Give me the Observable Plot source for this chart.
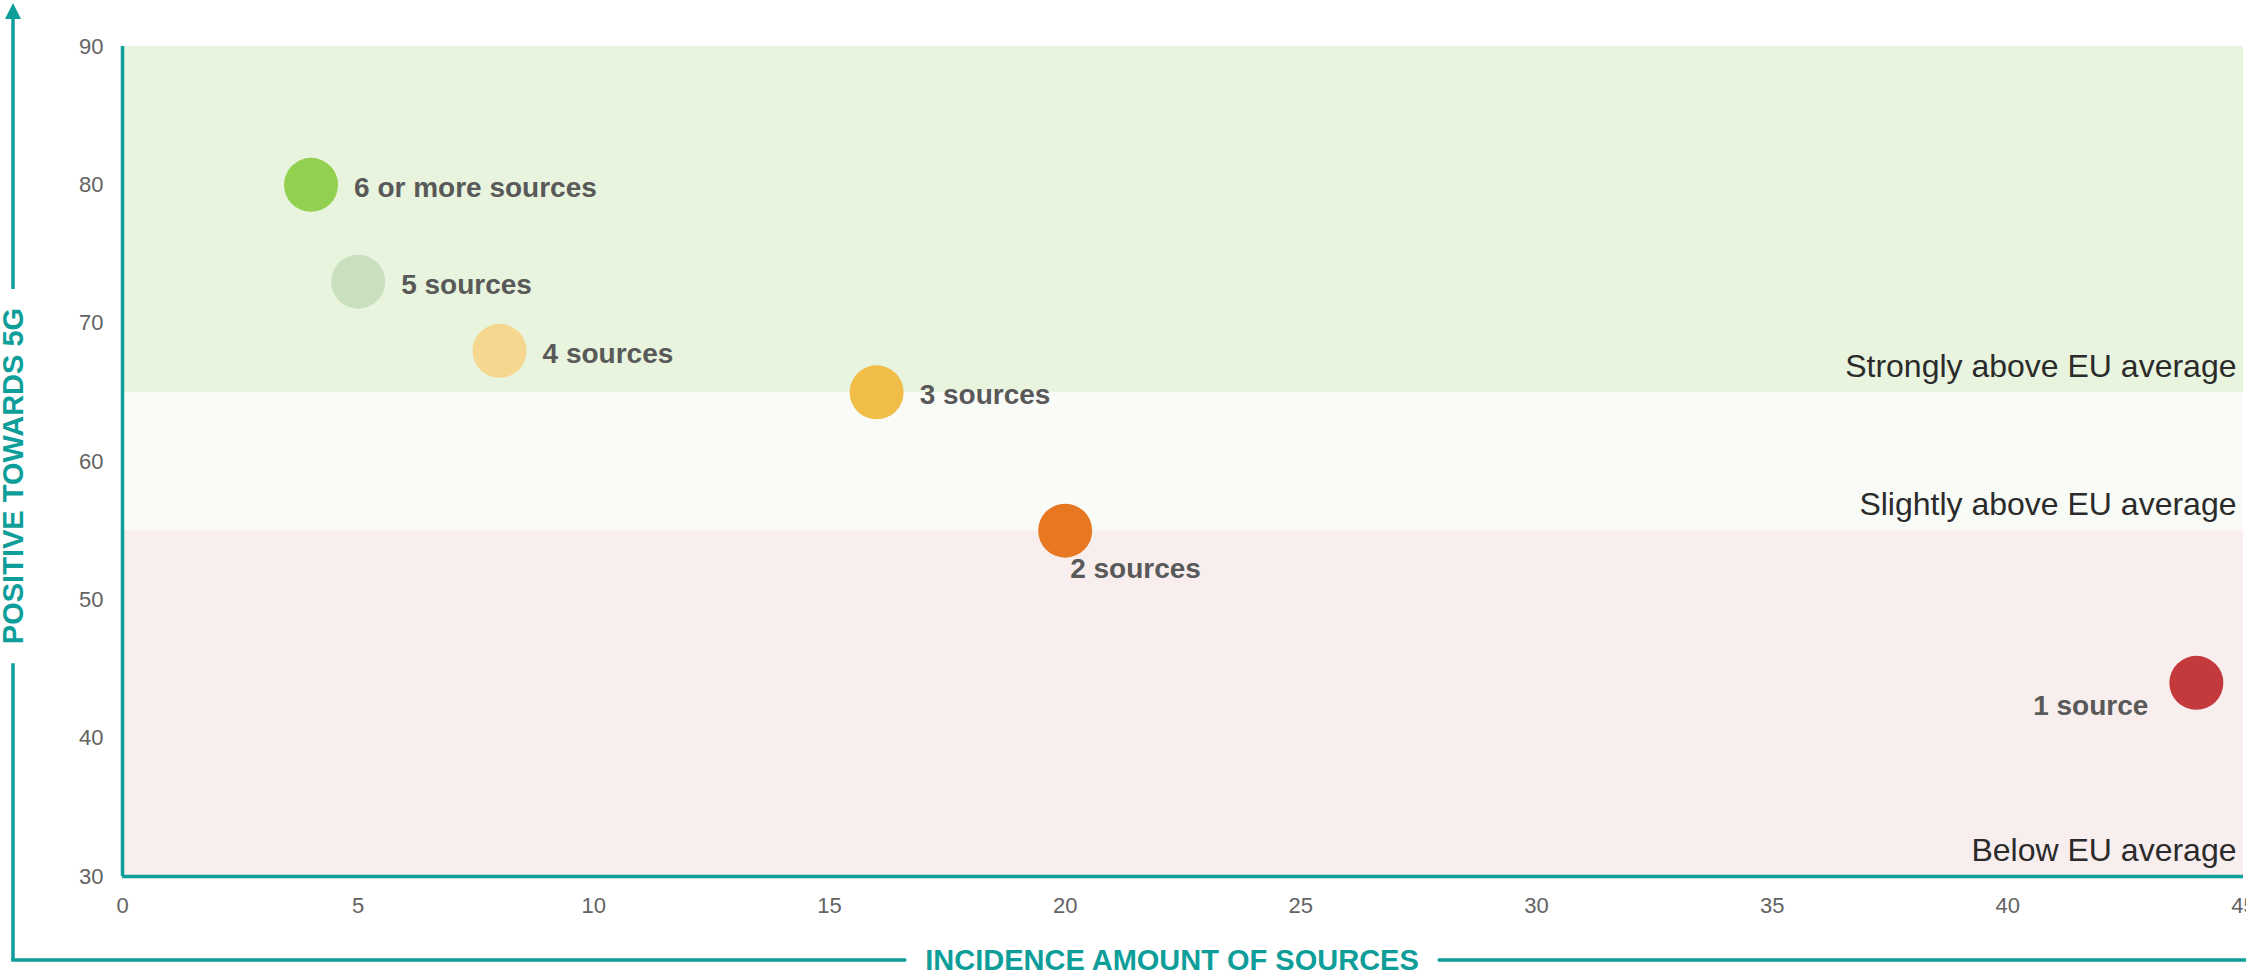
<!DOCTYPE html>
<html>
<head>
<meta charset="utf-8">
<script src="https://cdn.jsdelivr.net/npm/d3@7"></script>
<script src="https://cdn.jsdelivr.net/npm/@observablehq/plot@0.6"></script>
<style>
  html, body { margin: 0; padding: 0; background: #ffffff; overflow: hidden; }
  #chart { width: 2246px; height: 972px; }
</style>
</head>
<body>
<div id="chart"></div>
<script>
// ---- data ----
const categories = ["6 or more sources", "5 sources", "4 sources", "3 sources", "2 sources", "1 source"];
const incidence = [4, 5, 8, 16, 20, 44];
const positive = [80, 73, 68, 65, 55, 44];
const pointColors = ["#92d050", "#c8e0be", "#f5d790", "#f0bd48", "#e87722", "#c43a3c"];

const bandNames = ["Below EU average", "Slightly above EU average", "Strongly above EU average"];
const bandLow = [30, 55, 65];
const bandHigh = [55, 65, 90];
const bandColors = ["#f8eeee", "#f9fbf6", "#e8f4dd"];

const xTicks = [0, 5, 10, 15, 20, 25, 30, 35, 40, 45];
const yTicks = [30, 40, 50, 60, 70, 80, 90];

const xTitle = "INCIDENCE AMOUNT OF SOURCES";
const yTitle = "POSITIVE TOWARDS 5G";

// ---- tables ----
const points = categories.map((c, i) => ({category: c, x: incidence[i], y: positive[i]}));
const bands = bandNames.map((n, i) => ({name: n, y1: bandLow[i], y2: bandHigh[i]}));

const teal = "#0e9e9a";
const labelGray = "#595959";
const font = "'Liberation Sans', Arial, Helvetica, sans-serif";

const below = new Set(["2 sources"]);
const left = new Set(["1 source"]);

const chart = Plot.plot({
  width: 2246,
  height: 972,
  marginLeft: 122,
  marginRight: 3,
  marginTop: 46,
  marginBottom: 96,
  style: {fontFamily: font, fontSize: "22px", color: "#636363", background: "white", overflow: "visible"},
  x: {domain: [0, 45], ticks: xTicks, tickSize: 0, tickPadding: 21, label: null},
  y: {domain: [30, 90], ticks: yTicks, tickSize: 0, tickPadding: 19, label: null},
  color: {domain: bandNames.concat(categories), range: bandColors.concat(pointColors)},
  marks: [
    Plot.rect(bands, {y1: "y1", y2: "y2", x1: 0, x2: 45, fill: "name"}),
    Plot.text(bands, {
      x: 45, y: "y1", text: "name", textAnchor: "end", lineAnchor: "middle",
      dx: -7, dy: -26, fontSize: 32, fill: "#2b2b2b"
    }),
    Plot.ruleX([0], {stroke: teal, strokeWidth: 3.5}),
    Plot.ruleY([30], {stroke: teal, strokeWidth: 3.5}),
    Plot.dot(points, {x: "x", y: "y", r: 27, fill: "category", stroke: "none"}),
    Plot.text(points.filter(d => !below.has(d.category) && !left.has(d.category)), {
      x: "x", y: "y", text: "category", textAnchor: "start", lineAnchor: "middle",
      dx: 43, dy: 3, fontSize: 28, fontWeight: "bold", fill: labelGray
    }),
    Plot.text(points.filter(d => below.has(d.category)), {
      x: "x", y: "y", text: "category", textAnchor: "start", lineAnchor: "middle",
      dx: 5, dy: 38, fontSize: 28, fontWeight: "bold", fill: labelGray
    }),
    Plot.text(points.filter(d => left.has(d.category)), {
      x: "x", y: "y", text: "category", textAnchor: "end", lineAnchor: "middle",
      dx: -48, dy: 23, fontSize: 28, fontWeight: "bold", fill: labelGray
    })
  ]
});

document.getElementById("chart").appendChild(chart);

// ---- outer frame with axis titles ----
const svg = d3.select(chart);
const frameX = 13, frameY = 960, arrowTop = 3, gap = 19;
const g = svg.append("g");

const xt = g.append("text")
  .attr("x", 1172).attr("y", frameY)
  .attr("text-anchor", "middle").attr("dominant-baseline", "central")
  .attr("font-family", font).attr("font-weight", "bold").attr("font-size", 29)
  .attr("fill", teal).text(xTitle);
const yt = g.append("text")
  .attr("transform", `translate(${frameX},476) rotate(-90)`)
  .attr("text-anchor", "middle").attr("dominant-baseline", "central")
  .attr("font-family", font).attr("font-weight", "bold").attr("font-size", 29)
  .attr("fill", teal).text(yTitle);

const xb = xt.node().getBBox();
const yw = yt.node().getComputedTextLength();
const yTop = 476 - yw / 2, yBot = 476 + yw / 2;

const seg = (x1, y1, x2, y2) => g.append("line")
  .attr("x1", x1).attr("y1", y1).attr("x2", x2).attr("y2", y2)
  .attr("stroke", teal).attr("stroke-width", 3.5);

seg(frameX, 16, frameX, yTop - gap);
seg(frameX, yBot + gap, frameX, frameY);
seg(frameX - 1.75, frameY, xb.x - gap, frameY);
seg(xb.x + xb.width + gap, frameY, 2246, frameY);
g.append("path")
  .attr("d", `M${frameX},${arrowTop} L${frameX - 8},${arrowTop + 16} L${frameX + 8},${arrowTop + 16} Z`)
  .attr("fill", teal);
</script>
</body>
</html>
